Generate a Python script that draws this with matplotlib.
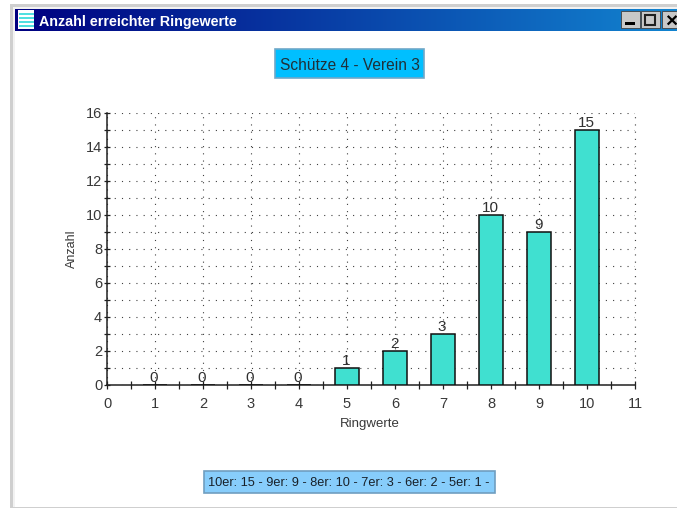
import numpy as np
import matplotlib
matplotlib.use("Agg")
import matplotlib.pyplot as plt
from matplotlib.patches import Rectangle
from matplotlib.ticker import MultipleLocator

ring_values = [1, 2, 3, 4, 5, 6, 7, 8, 9, 10]
counts = [0, 0, 0, 0, 1, 2, 3, 10, 9, 15]
window_title = "Anzahl erreichter Ringewerte"
chart_title = "Schütze 4 - Verein 3"
summary = "10er: 15 - 9er: 9 - 8er: 10 - 7er: 3 - 6er: 2 - 5er: 1 -"
x_label = "Ringwerte"
y_label = "Anzahl"

W, H = 677, 508
plt.rcParams['font.family'] = ['Liberation Sans', 'DejaVu Sans']
fig = plt.figure(figsize=(W / 100, H / 100), dpi=100, facecolor='white')


def fx(x):
    return x / W


def fy(y):
    return 1 - y / H


def rect(x0, y0, x1, y1, fc, ec='none', lw=0, z=1):
    fig.add_artist(Rectangle((fx(x0), fy(y1)), (x1 - x0) / W, (y1 - y0) / H,
                             transform=fig.transFigure, fc=fc, ec=ec, lw=lw, zorder=z))


# window frame
rect(10, 4, 677, 508, '#cfcfcf')
rect(13, 6.5, 677, 507, '#f2f2f2')
rect(15, 9, 677, 507, 'white')

# title bar gradient
bar_ax = fig.add_axes([fx(15), fy(31), (W - 15) / W, 22 / H], zorder=2)
c0 = np.array([0, 0, 128]) / 255
c1 = np.array([18, 132, 208]) / 255
t = np.linspace(0, 1, 400)[None, :, None]
bar_ax.imshow(c0 + (c1 - c0) * t, aspect='auto')
bar_ax.axis('off')

# window icon
rect(18, 10, 34, 29, '#ffffff', z=3)
for yy in (13, 17, 21, 25):
    rect(19, yy, 34, yy + 2, '#50e0e0', z=4)
fig.text(fx(39), fy(20.5), window_title, color='white', fontsize=10.3, fontweight='bold',
         va='center_baseline', ha='left', zorder=5)

# window buttons
for x0, x1 in ((621, 640), (641, 660), (662, 680)):
    rect(x0, 11, x1, 28, '#c8c8c8', ec='#404040', lw=0.6, z=3)
rect(625, 22, 635, 25, 'black', z=4)
rect(644.5, 15, 655, 24.5, 'none', ec='#202020', lw=1.5, z=4)
fig.text(fx(671.5), fy(20), '×', color='black', fontsize=15, fontweight='bold',
         ha='center', va='center_baseline', zorder=5)

# chart title box
rect(274.5, 49.5, 424, 78, '#00bfff', ec='#6fa8c8', lw=1.2, z=3)
fig.text(fx(349.5), fy(64.5), chart_title, color='#203038', fontsize=11.2,
         ha='center', va='center_baseline', zorder=5)

# summary box
rect(203.5, 470.5, 495, 493, '#87cdfb', ec='#6f9ec0', lw=1.2, z=3)
fig.text(fx(348.5), fy(482), summary, color='#182028', fontsize=9.2,
         ha='center', va='center_baseline', zorder=5)

# plot
ax = fig.add_axes([fx(107), fy(385), (635 - 107) / W, (385 - 113) / H], zorder=3)
ax.patch.set_alpha(0)
ax.bar(ring_values, counts, width=0.51, color='#40e0d0', edgecolor='#101010', linewidth=1.1, zorder=3)
for x, v in zip(ring_values, counts):
    ax.text(x - 0.02, v + 0.02, str(v), ha='center', va='bottom', fontsize=11, color='#303030', zorder=4)

ax.set_xlim(0, 11)
ax.set_ylim(0, 16)
ax.xaxis.set_major_locator(MultipleLocator(1))
ax.xaxis.set_minor_locator(MultipleLocator(0.5))
ax.yaxis.set_major_locator(MultipleLocator(2))
ax.yaxis.set_minor_locator(MultipleLocator(1))
ax.tick_params(axis='x', which='both', direction='inout', length=6, width=0.9, color='#202020',
               labelsize=10.5, labelcolor='#383838', pad=6)
ax.tick_params(axis='y', which='both', direction='inout', length=5, width=0.9, color='#202020',
               labelsize=10.5, labelcolor='#383838', pad=1)
dots = (0, (1, 5.5))
ax.grid(True, which='major', axis='x', color='#404040', linestyle=dots, linewidth=0.8, zorder=0)
ax.grid(True, which='both', axis='y', color='#404040', linestyle=dots, linewidth=0.8, zorder=0)
ax.set_axisbelow(True)
for s in ('top', 'right'):
    ax.spines[s].set_visible(False)
for s in ('left', 'bottom'):
    ax.spines[s].set_color('#202020')
    ax.spines[s].set_linewidth(1.1)
ax.plot([1, 1], [0, 1], transform=ax.transAxes, color='#404040', ls=dots, lw=0.8, clip_on=False)
fig.text(fx(370), fy(424), x_label, fontsize=9.5, color='#383838', ha='center', va='center', zorder=5)
fig.text(fx(72), fy(249), y_label, fontsize=9, color='#383838', rotation=90, ha='center', va='center', zorder=5)

fig.savefig('out.png', dpi=100)
